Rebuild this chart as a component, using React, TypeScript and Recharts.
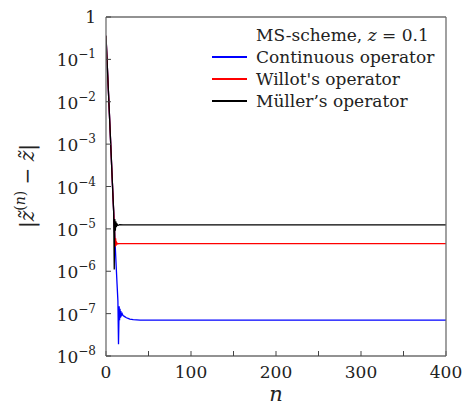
import React from 'react';
import { LineChart, Line, XAxis, YAxis } from 'recharts';

const xTicks = [0, 50, 100, 150, 200, 250, 300, 350, 400];
const xLabelTicks = [0, 100, 200, 300, 400];
const yTicks = [1e-8, 1e-7, 1e-6, 1e-5, 1e-4, 1e-3, 1e-2, 1e-1, 1];
const yExponents = ['−8', '−7', '−6', '−5', '−4', '−3', '−2', '−1', ''];

const seriesNames = ['Continuous operator', "Willot's operator", 'Müller\u2019s operator'];
const seriesColors = ['#0000ff', '#ff0000', '#000000'];
const legendTitle = 'MS-scheme, ';

const blackN = [0, 1, 2, 3, 4, 5, 6, 7, 8, 9, 9.7, 10.3, 11, 11.5, 12, 13, 14, 16, 20, 400];
const blackV = [0.36, 0.125, 0.043, 0.015, 0.0052, 0.0018, 6.2e-4, 2.1e-4, 7.3e-5, 2.6e-5, 1.1e-6, 1.7e-5, 9e-6, 1.5e-5, 1.1e-5, 1.3e-5, 1.2e-5, 1.25e-5, 1.24e-5, 1.24e-5];

const redN = [0, 1, 2, 3, 4, 5, 6, 7, 8, 9, 10, 10.8, 11.3, 11.8, 12.5, 13.5, 15, 20, 400];
const redV = [0.36, 0.125, 0.043, 0.015, 0.0052, 0.0018, 6.2e-4, 2.1e-4, 7.3e-5, 2.6e-5, 9.5e-6, 3.8e-6, 6e-6, 4e-6, 4.8e-6, 4.4e-6, 4.5e-6, 4.5e-6, 4.5e-6];

const blueN = [0, 1, 2, 3, 4, 5, 6, 7, 8, 9, 10, 11, 12, 13, 14, 14.7, 15.5, 16, 16.5, 17, 17.5, 18, 19, 20, 22, 24, 26, 28, 32, 40, 400];
const blueV = [0.36, 0.125, 0.043, 0.015, 0.0052, 0.0018, 6.2e-4, 2.1e-4, 7.3e-5, 2.6e-5, 9e-6, 3.5e-6, 1.3e-6, 5e-7, 2e-7, 1.9e-8, 1.5e-7, 7e-8, 1.3e-7, 8e-8, 1.15e-7, 9e-8, 1.0e-7, 9e-8, 8.5e-8, 8e-8, 7.7e-8, 7.4e-8, 7.2e-8, 7.0e-8, 7.0e-8];

const toData = (ns: number[], vs: number[]) => ns.map((n, i) => ({ n, v: vs[i] }));

const FONT = 'DejaVu Serif';
const AXIS = '#6e6e6e';
const TEXT = '#222';

const XTick = (props: any) => {
  const { x, y, payload } = props;
  if (!xLabelTicks.includes(payload.value)) return null;
  return (
    <text x={x} y={y} dy={10} textAnchor="middle" fontFamily={FONT} fontSize={17} fill={TEXT}>
      {payload.value}
    </text>
  );
};

const YTick = (props: any) => {
  const { x, y, payload } = props;
  const idx = yTicks.indexOf(payload.value);
  const exp = yExponents[idx];
  if (exp === '') {
    return (
      <text x={x} y={y} dy={6} textAnchor="end" fontFamily={FONT} fontSize={17} fill={TEXT}>1</text>
    );
  }
  return (
    <text x={x} y={y} dy={7} textAnchor="end" fontFamily={FONT} fontSize={17} fill={TEXT}>
      10<tspan dy={-8} fontSize={12}>{exp}</tspan>
    </text>
  );
};

const LegendBox = () => (
  <div style={{ position: 'absolute', left: 212, top: 24, width: 240, fontFamily: FONT, fontSize: 17, color: TEXT, lineHeight: '22px' }}>
    <div style={{ paddingLeft: 44 }}>
      {legendTitle}<i>z</i> = 0.1
    </div>
    {seriesNames.map((s, i) => (
      <div key={s} style={{ display: 'flex', alignItems: 'center', height: 22 }}>
        <div style={{ width: 35, height: 2, background: seriesColors[i], marginRight: 9, flex: 'none' }} />
        <span>{s}</span>
      </div>
    ))}
  </div>
);

export default function App() {
  const series = [toData(blueN, blueV), toData(redN, redV), toData(blackN, blackV)];
  return (
    <div style={{ position: 'absolute', left: 0, top: 0, width: 462, height: 411, background: '#fff' }}>
      <LineChart width={462} height={411} margin={{ top: 16, right: 15, bottom: 54, left: 105 }}>
        <XAxis
          xAxisId="b"
          dataKey="n"
          type="number"
          domain={[0, 400]}
          ticks={xTicks}
          interval={0}
          tick={<XTick />}
          tickSize={-5}
          tickMargin={17}
          height={1}
          axisLine={{ stroke: AXIS, strokeWidth: 1.3 }}
          tickLine={{ stroke: '#444', strokeWidth: 1 }}
          allowDataOverflow
        />
        <XAxis
          xAxisId="t"
          orientation="top"
          dataKey="n"
          type="number"
          domain={[0, 400]}
          ticks={xTicks}
          interval={0}
          tick={false}
          tickSize={-5}
          height={1}
          axisLine={{ stroke: AXIS, strokeWidth: 1.3 }}
          tickLine={{ stroke: '#444', strokeWidth: 1 }}
        />
        <YAxis
          yAxisId="l"
          type="number"
          scale="log"
          domain={[1e-8, 1]}
          ticks={yTicks}
          interval={0}
          tick={<YTick />}
          tickSize={-5}
          tickMargin={15}
          width={1}
          axisLine={{ stroke: AXIS, strokeWidth: 1.3 }}
          tickLine={{ stroke: '#444', strokeWidth: 1 }}
          allowDataOverflow
        />
        <YAxis
          yAxisId="r"
          orientation="right"
          type="number"
          scale="log"
          domain={[1e-8, 1]}
          ticks={yTicks}
          interval={0}
          tick={false}
          tickSize={-5}
          width={1}
          axisLine={{ stroke: AXIS, strokeWidth: 1.3 }}
          tickLine={{ stroke: '#444', strokeWidth: 1 }}
          allowDataOverflow
        />
        {series.map((d, i) => (
          <Line
            key={seriesNames[i]}
            xAxisId="b"
            yAxisId="l"
            data={d}
            dataKey="v"
            name={seriesNames[i]}
            stroke={seriesColors[i]}
            strokeWidth={1.3}
            dot={false}
            type="linear"
            isAnimationActive={false}
          />
        ))}
        <text x={276} y={401} textAnchor="middle" fontFamily={FONT} fontSize={21} fontStyle="italic" fill={TEXT}>n</text>
        <text
          transform="translate(34,186) rotate(-90)"
          textAnchor="middle"
          fontFamily={FONT}
          fontSize={20}
          fill={TEXT}
        >
          |<tspan fontStyle="italic">z̃</tspan>
          <tspan dy={-9} fontSize={14}>(</tspan><tspan fontSize={14} fontStyle="italic">n</tspan><tspan fontSize={14}>)</tspan>
          <tspan dy={9}> − </tspan><tspan fontStyle="italic">z̃</tspan>|
        </text>
      </LineChart>
      <LegendBox />
    </div>
  );
}
